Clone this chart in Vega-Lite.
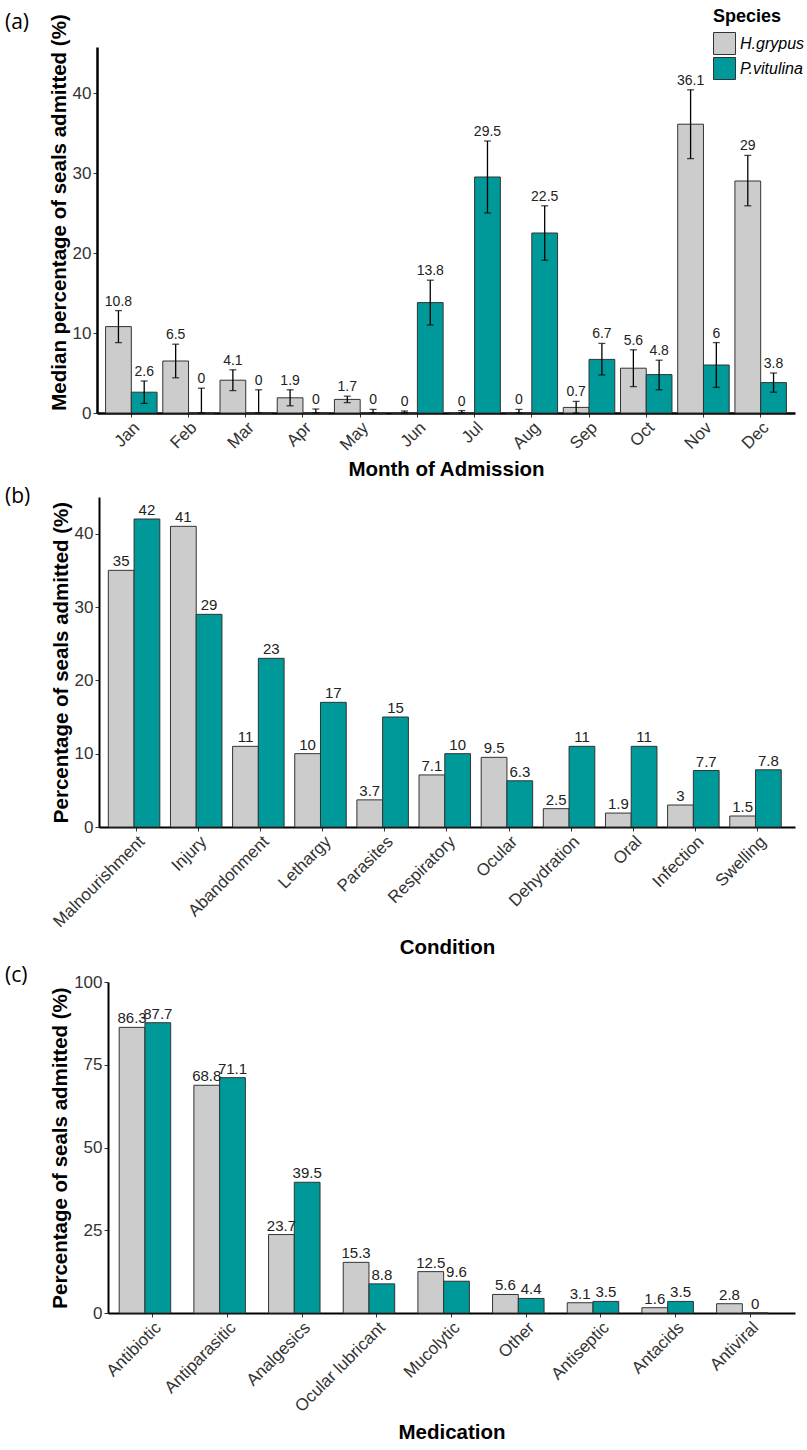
{
  "$schema": "https://vega.github.io/schema/vega-lite/v6.json",
  "padding": {"left": 5, "top": 8, "right": 2, "bottom": 5},
  "background": "white",
  "spacing": 6,
  "config": {
    "font": "Liberation Sans",
    "view": {"stroke": null},
    "axis": {"grid": false, "domainColor": "black", "domainWidth": 2, "tickColor": "#333333", "tickSize": 4, "tickWidth": 1, "labelColor": "#333333", "labelFontSize": 17, "labelFont": "Liberation Sans", "titleFont": "Liberation Sans", "titleFontSize": 20.5, "titleFontWeight": "bold", "titleColor": "black", "labelPadding": 2, "titlePadding": 3, "zindex": 1},
    "title": {"font": "Open Sans", "fontSize": 21, "fontWeight": "normal", "color": "black", "anchor": "start", "frame": "group"}
  },
  "resolve": {"legend": {"color": "independent"}},
  "datasets": {
    "months": [
      {"month": "Jan", "species": "H.grypus", "value": 10.8, "lo": 8.8, "hi": 12.8},
      {"month": "Jan", "species": "P.vitulina", "value": 2.6, "lo": 1.2, "hi": 4.0},
      {"month": "Feb", "species": "H.grypus", "value": 6.5, "lo": 4.4, "hi": 8.6},
      {"month": "Feb", "species": "P.vitulina", "value": 0, "lo": 0, "hi": 3.1},
      {"month": "Mar", "species": "H.grypus", "value": 4.1, "lo": 2.8, "hi": 5.4},
      {"month": "Mar", "species": "P.vitulina", "value": 0, "lo": 0, "hi": 2.9},
      {"month": "Apr", "species": "H.grypus", "value": 1.9, "lo": 0.9, "hi": 2.9},
      {"month": "Apr", "species": "P.vitulina", "value": 0, "lo": 0, "hi": 0.5},
      {"month": "May", "species": "H.grypus", "value": 1.7, "lo": 1.3, "hi": 2.1},
      {"month": "May", "species": "P.vitulina", "value": 0, "lo": 0, "hi": 0.45},
      {"month": "Jun", "species": "H.grypus", "value": 0, "lo": 0, "hi": 0.25},
      {"month": "Jun", "species": "P.vitulina", "value": 13.8, "lo": 11.0, "hi": 16.6},
      {"month": "Jul", "species": "H.grypus", "value": 0, "lo": 0, "hi": 0.3},
      {"month": "Jul", "species": "P.vitulina", "value": 29.5, "lo": 25.0, "hi": 34.0},
      {"month": "Aug", "species": "H.grypus", "value": 0, "lo": 0, "hi": 0.45},
      {"month": "Aug", "species": "P.vitulina", "value": 22.5, "lo": 19.1, "hi": 25.9},
      {"month": "Sep", "species": "H.grypus", "value": 0.7, "lo": 0, "hi": 1.45},
      {"month": "Sep", "species": "P.vitulina", "value": 6.7, "lo": 4.75, "hi": 8.7},
      {"month": "Oct", "species": "H.grypus", "value": 5.6, "lo": 3.3, "hi": 7.9},
      {"month": "Oct", "species": "P.vitulina", "value": 4.8, "lo": 2.9, "hi": 6.6},
      {"month": "Nov", "species": "H.grypus", "value": 36.1, "lo": 31.8, "hi": 40.4},
      {"month": "Nov", "species": "P.vitulina", "value": 6, "lo": 3.2, "hi": 8.8},
      {"month": "Dec", "species": "H.grypus", "value": 29, "lo": 25.9, "hi": 32.2},
      {"month": "Dec", "species": "P.vitulina", "value": 3.8, "lo": 2.6, "hi": 5.0}
    ],
    "conditions": [
      {"condition": "Malnourishment", "species": "H.grypus", "value": 35},
      {"condition": "Malnourishment", "species": "P.vitulina", "value": 42},
      {"condition": "Injury", "species": "H.grypus", "value": 41},
      {"condition": "Injury", "species": "P.vitulina", "value": 29},
      {"condition": "Abandonment", "species": "H.grypus", "value": 11},
      {"condition": "Abandonment", "species": "P.vitulina", "value": 23},
      {"condition": "Lethargy", "species": "H.grypus", "value": 10},
      {"condition": "Lethargy", "species": "P.vitulina", "value": 17},
      {"condition": "Parasites", "species": "H.grypus", "value": 3.7},
      {"condition": "Parasites", "species": "P.vitulina", "value": 15},
      {"condition": "Respiratory", "species": "H.grypus", "value": 7.1},
      {"condition": "Respiratory", "species": "P.vitulina", "value": 10},
      {"condition": "Ocular", "species": "H.grypus", "value": 9.5},
      {"condition": "Ocular", "species": "P.vitulina", "value": 6.3},
      {"condition": "Dehydration", "species": "H.grypus", "value": 2.5},
      {"condition": "Dehydration", "species": "P.vitulina", "value": 11},
      {"condition": "Oral", "species": "H.grypus", "value": 1.9},
      {"condition": "Oral", "species": "P.vitulina", "value": 11},
      {"condition": "Infection", "species": "H.grypus", "value": 3},
      {"condition": "Infection", "species": "P.vitulina", "value": 7.7},
      {"condition": "Swelling", "species": "H.grypus", "value": 1.5},
      {"condition": "Swelling", "species": "P.vitulina", "value": 7.8}
    ],
    "medications": [
      {"medication": "Antibiotic", "species": "H.grypus", "value": 86.3},
      {"medication": "Antibiotic", "species": "P.vitulina", "value": 87.7},
      {"medication": "Antiparasitic", "species": "H.grypus", "value": 68.8},
      {"medication": "Antiparasitic", "species": "P.vitulina", "value": 71.1},
      {"medication": "Analgesics", "species": "H.grypus", "value": 23.7},
      {"medication": "Analgesics", "species": "P.vitulina", "value": 39.5},
      {"medication": "Ocular lubricant", "species": "H.grypus", "value": 15.3},
      {"medication": "Ocular lubricant", "species": "P.vitulina", "value": 8.8},
      {"medication": "Mucolytic", "species": "H.grypus", "value": 12.5},
      {"medication": "Mucolytic", "species": "P.vitulina", "value": 9.6},
      {"medication": "Other", "species": "H.grypus", "value": 5.6},
      {"medication": "Other", "species": "P.vitulina", "value": 4.4},
      {"medication": "Antiseptic", "species": "H.grypus", "value": 3.1},
      {"medication": "Antiseptic", "species": "P.vitulina", "value": 3.5},
      {"medication": "Antacids", "species": "H.grypus", "value": 1.6},
      {"medication": "Antacids", "species": "P.vitulina", "value": 3.5},
      {"medication": "Antiviral", "species": "H.grypus", "value": 2.8},
      {"medication": "Antiviral", "species": "P.vitulina", "value": 0}
    ]
  },
  "vconcat": [
    {
      "width": 698,
      "height": 366,
      "title": {"text": "(a)", "dx": -92, "offset": -25},
      "data": {"name": "months"},
      "resolve": {"axis": {"y": "independent"}},
      "encoding": {
        "x": {"field": "month", "type": "nominal", "sort": ["Jan", "Feb", "Mar", "Apr", "May", "Jun", "Jul", "Aug", "Sep", "Oct", "Nov", "Dec"], "scale": {"paddingInner": 0.1, "paddingOuter": 0.15}, "axis": {"title": "Month of Admission", "labelAngle": -45, "labelAlign": "right", "labelBaseline": "top", "titlePadding": 6, "domainWidth": 2.5}},
        "xOffset": {"field": "species", "type": "nominal", "sort": ["H.grypus", "P.vitulina"], "scale": {"paddingInner": 0, "paddingOuter": 0}}
      },
      "layer": [
        {
          "mark": {"type": "bar", "stroke": "#333333", "strokeWidth": 1},
          "encoding": {
            "y": {"field": "value", "type": "quantitative", "scale": {"domain": [0, 45.75], "nice": false}, "axis": {"title": "Median percentage of seals admitted (%)", "values": [0, 10, 20, 30, 40], "titleY": 165, "domainWidth": 2.5}},
            "color": {"field": "species", "type": "nominal", "scale": {"domain": ["H.grypus", "P.vitulina"], "range": ["#CCCCCC", "#009999"]}, "legend": {"title": "Species", "orient": "none", "legendX": 616, "legendY": -39, "titleFontSize": 18, "titleFontWeight": "bold", "titleColor": "black", "titleFont": "Liberation Sans", "labelFont": "Liberation Sans", "labelFontSize": 16, "labelFontStyle": "italic", "labelColor": "black", "symbolType": "square", "symbolSize": 484, "symbolStrokeColor": "#333333", "symbolStrokeWidth": 1, "symbolOpacity": 1, "rowPadding": -6, "titlePadding": 6, "labelOffset": 4}}
          }
        },
        {
          "mark": {"type": "rule", "color": "black", "strokeWidth": 1.3},
          "encoding": {
            "y": {"field": "lo", "type": "quantitative", "scale": {"domain": [0, 45.75], "nice": false}, "axis": null},
            "y2": {"field": "hi"}
          }
        },
        {
          "mark": {"type": "tick", "color": "black", "size": 7, "thickness": 1.3},
          "encoding": {"y": {"field": "lo", "type": "quantitative", "scale": {"domain": [0, 45.75], "nice": false}, "axis": null}}
        },
        {
          "mark": {"type": "tick", "color": "black", "size": 7, "thickness": 1.3},
          "encoding": {"y": {"field": "hi", "type": "quantitative", "scale": {"domain": [0, 45.75], "nice": false}, "axis": null}}
        },
        {
          "mark": {"type": "text", "baseline": "bottom", "dy": -2, "fontSize": 14, "color": "#222222"},
          "encoding": {
            "y": {"field": "hi", "type": "quantitative", "scale": {"domain": [0, 45.75], "nice": false}, "axis": null},
            "text": {"field": "value", "type": "quantitative", "format": ".4~g"}
          }
        }
      ]
    },
    {
      "width": 698,
      "height": 330,
      "title": {"text": "(b)", "dx": -92, "offset": -10},
      "data": {"name": "conditions"},
      "encoding": {
        "x": {"field": "condition", "type": "nominal", "sort": ["Malnourishment", "Injury", "Abandonment", "Lethargy", "Parasites", "Respiratory", "Ocular", "Dehydration", "Oral", "Infection", "Swelling"], "scale": {"paddingInner": 0.1, "paddingOuter": 0.15, "range": [2, 698]}, "axis": {"title": "Condition", "labelAngle": -45, "labelAlign": "right", "labelBaseline": "top", "titlePadding": 8}},
        "xOffset": {"field": "species", "type": "nominal", "sort": ["H.grypus", "P.vitulina"], "scale": {"paddingInner": 0, "paddingOuter": 0}},
        "y": {"field": "value", "type": "quantitative", "scale": {"domain": [0, 45], "nice": false}, "axis": {"title": "Percentage of seals admitted (%)", "values": [0, 10, 20, 30, 40], "offset": -2}}
      },
      "layer": [
        {
          "mark": {"type": "bar", "stroke": "#333333", "strokeWidth": 1},
          "encoding": {"color": {"field": "species", "type": "nominal", "scale": {"domain": ["H.grypus", "P.vitulina"], "range": ["#CCCCCC", "#009999"]}, "legend": null}}
        },
        {
          "mark": {"type": "text", "baseline": "bottom", "dy": -1, "fontSize": 15, "color": "#222222"},
          "encoding": {"text": {"field": "value", "type": "quantitative", "format": ".4~g"}}
        }
      ]
    },
    {
      "width": 698,
      "height": 331,
      "title": {"text": "(c)", "dx": -92, "offset": -13},
      "data": {"name": "medications"},
      "encoding": {
        "x": {"field": "medication", "type": "nominal", "sort": ["Antibiotic", "Antiparasitic", "Analgesics", "Ocular lubricant", "Mucolytic", "Other", "Antiseptic", "Antacids", "Antiviral"], "scale": {"paddingInner": 0.1, "paddingOuter": 0.15, "range": [11, 698]}, "axis": {"title": "Medication", "labelAngle": -45, "labelAlign": "right", "labelBaseline": "top", "titlePadding": 8}},
        "xOffset": {"field": "species", "type": "nominal", "sort": ["H.grypus", "P.vitulina"], "scale": {"paddingInner": 0, "paddingOuter": 0}},
        "y": {"field": "value", "type": "quantitative", "scale": {"domain": [0, 100], "nice": false}, "axis": {"title": "Percentage of seals admitted (%)", "values": [0, 25, 50, 75, 100], "offset": -11}}
      },
      "layer": [
        {
          "mark": {"type": "bar", "stroke": "#333333", "strokeWidth": 1},
          "encoding": {"color": {"field": "species", "type": "nominal", "scale": {"domain": ["H.grypus", "P.vitulina"], "range": ["#CCCCCC", "#009999"]}, "legend": null}}
        },
        {
          "mark": {"type": "text", "baseline": "bottom", "dy": -1, "fontSize": 15, "color": "#222222"},
          "encoding": {"text": {"field": "value", "type": "quantitative", "format": ".4~g"}}
        }
      ]
    }
  ]
}
